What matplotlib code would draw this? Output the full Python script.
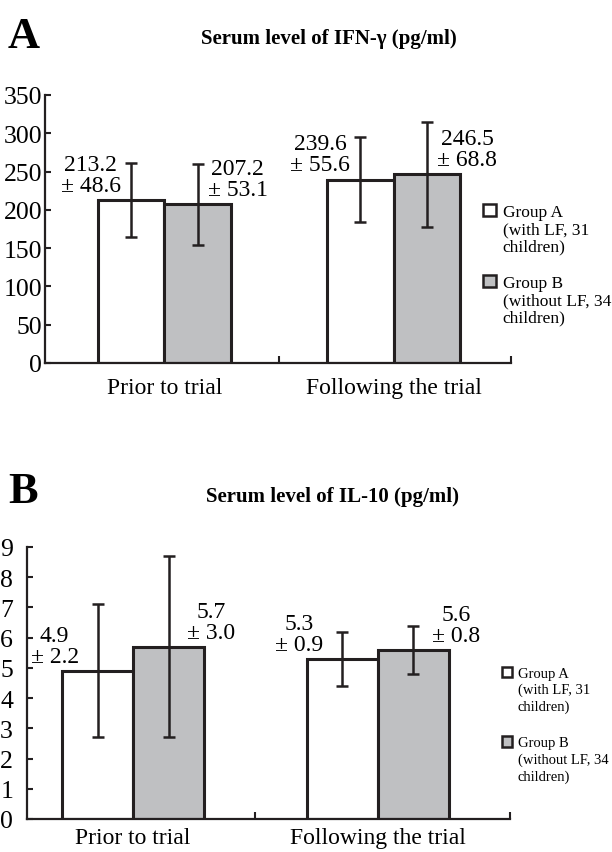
import numpy as np
import matplotlib.pyplot as plt
from matplotlib.patches import Patch

plt.rcParams['font.family'] = ['Liberation Serif', 'DejaVu Serif']

# data
timepoints = ['Prior to trial', 'Following the trial']
groups = ['Group A\n(with LF, 31\nchildren)', 'Group B\n(without LF, 34\nchildren)']

ifn_mean_a = [213.2, 239.6]
ifn_sd_a = [48.6, 55.6]
ifn_mean_b = [207.2, 246.5]
ifn_sd_b = [53.1, 68.8]

il10_mean_a = [4.9, 5.3]
il10_sd_a = [2.2, 0.9]
il10_mean_b = [5.7, 5.6]
il10_sd_b = [3.0, 0.8]

ifn_ticks = [0, 50, 100, 150, 200, 250, 300, 350]
il10_ticks = [0, 1, 2, 3, 4, 5, 6, 7, 8, 9]

# style
EDGE = '#231f20'
GRAY = '#bfc0c2'
W = 0.29
LAB_DX = 0.175


def panel(ax, mean_a, sd_a, mean_b, sd_b, ticks, xlim):
    x = np.arange(len(timepoints))
    for xs, m, s, fc, side in [(x - W/2, mean_a, sd_a, 'white', -1),
                               (x + W/2, mean_b, sd_b, GRAY, 1)]:
        ax.bar(xs, m, W, color=fc, edgecolor=EDGE, linewidth=2.2, zorder=2)
        ax.errorbar(xs, m, yerr=s, fmt='none', ecolor=EDGE, elinewidth=1.8,
                    capsize=4.5, capthick=1.8, zorder=3)
        for xi, mi, si in zip(xs, m, s):
            ax.annotate('{:.1f}\n\u00b1 {:.1f}'.format(mi, si),
                        (xi + side*LAB_DX, mi), xytext=(0, 3),
                        textcoords='offset points', ha='center', va='bottom',
                        multialignment='center', fontsize=17, linespacing=1.0)
    ax.set_xlim(*xlim)
    ax.set_ylim(ticks[0], ticks[-1])
    ax.set_yticks(ticks)
    ax.set_xticks([0.5, xlim[1]])
    ax.set_xticklabels([])
    ax.set_xticks(x, minor=True)
    ax.set_xticklabels(timepoints, minor=True)
    ax.tick_params(axis='x', which='major', direction='in', length=5, width=1.5, color=EDGE)
    ax.tick_params(axis='x', which='minor', length=0, pad=10, labelsize=17)
    ax.tick_params(axis='y', direction='in', length=4, width=1.5, color=EDGE, labelsize=18.5)
    for sp in ['top', 'right']:
        ax.spines[sp].set_visible(False)
    for sp in ['left', 'bottom']:
        ax.spines[sp].set_linewidth(1.6)
        ax.spines[sp].set_color(EDGE)


def legend(fig, anchor, size, lsp, spacing):
    handles = [Patch(facecolor='white', edgecolor=EDGE, linewidth=1.8),
               Patch(facecolor=GRAY, edgecolor=EDGE, linewidth=1.8)]
    leg = fig.legend(handles, groups, loc='upper left', bbox_to_anchor=anchor,
                     frameon=False, fontsize=size, handlelength=0.7, handleheight=0.7,
                     handletextpad=0.4, labelspacing=spacing, borderpad=0, borderaxespad=0)
    for t in leg.get_texts():
        t.set_linespacing(lsp)
    # square next to the first line of each label
    for col in leg._legend_handle_box.get_children():
        for row in col.get_children():
            row.align = 'top'


fig = plt.figure(figsize=(6.12, 8.53), dpi=100)

ax1 = fig.add_axes([0.0735, 0.5733, 0.761, 0.3142])
panel(ax1, ifn_mean_a, ifn_sd_a, ifn_mean_b, ifn_sd_b, ifn_ticks, (-0.52, 1.51))
ax1.tick_params(axis='y', pad=2)
legend(fig, (0.790, 0.760), 12.5, 1.12, 1.15)

ax2 = fig.add_axes([0.0441, 0.0387, 0.789, 0.3189])
panel(ax2, il10_mean_a, il10_sd_a, il10_mean_b, il10_sd_b, il10_ticks, (-0.433, 1.539))
ax2.tick_params(axis='y', pad=10)
ax2.tick_params(axis='x', which='minor', pad=6)
legend(fig, (0.820, 0.217), 10.5, 1.3, 1.6)

fig.text(0.013, 1 - 37/853, 'A', fontsize=32, fontweight='bold', va='center')
fig.text(0.537, 1 - 39/853, 'Serum level of IFN-\u03b3 (pg/ml)', fontsize=15,
         fontweight='bold', ha='center', va='center')
fig.text(0.013, 1 - 492/853, 'B', fontsize=32, fontweight='bold', va='center')
fig.text(0.544, 1 - 497/853, 'Serum level of IL-10 (pg/ml)', fontsize=15,
         fontweight='bold', ha='center', va='center')

fig.savefig('out.png', dpi=100)
